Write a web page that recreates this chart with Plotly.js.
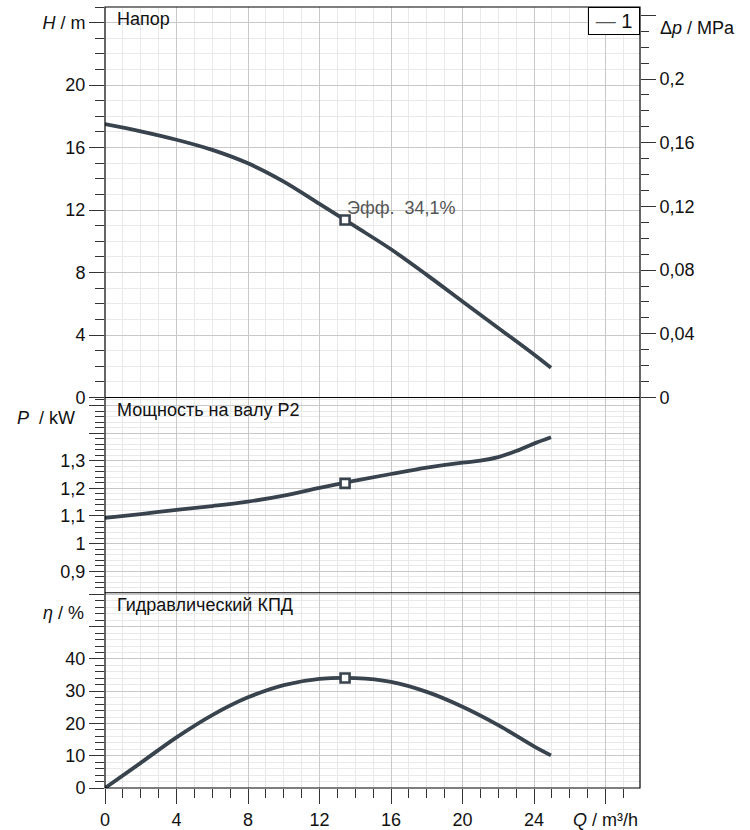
<!DOCTYPE html>
<html>
<head>
<meta charset="utf-8">
<script src="https://cdn.plot.ly/plotly-3.0.1.min.js"></script>
<style>html,body{margin:0;padding:0;background:#fff;}#chart{width:750px;height:830px;}</style>
</head>
<body>
<div id="chart"></div>
<script>
// ---- data ----
const flowQ   = [0, 2, 4, 6, 8, 10, 12, 14, 16, 18, 20, 22, 24, 24.95];
const headH   = [17.5, 17.04, 16.5, 15.85, 14.99, 13.82, 12.39, 10.95, 9.49, 7.85, 6.15, 4.45, 2.75, 1.9];
const powerQ  = [0, 2, 4, 6, 8, 10, 12, 14, 16, 18, 20, 21, 22, 23, 24, 24.95];
const powerP  = [1.093, 1.107, 1.122, 1.136, 1.152, 1.174, 1.202, 1.228, 1.252, 1.275, 1.293, 1.300, 1.313, 1.335, 1.362, 1.385];
const effQ    = [0, 2, 4, 6, 8, 10, 12, 14, 16, 18, 20, 22, 24, 24.95];
const effEta  = [0, 7.8, 15.7, 22.6, 28.1, 31.9, 33.8, 34.05, 32.9, 29.8, 25.2, 19.5, 12.9, 10.1];
const dutyQ   = [13.43];
const dutyH   = [11.36];
const dutyP   = [1.218];
const dutyEta = [34.1];
const xTickVals = [0, 4, 8, 12, 16, 20, 24, 28];
const xTickText = ['0', '4', '8', '12', '16', '20', '24', '<i>Q</i> / m³/h'];
const hTickVals = [0, 4, 8, 12, 16, 20, 24];
const hTickText = ['0', '4', '8', '12', '16', '20', '<i>H</i> / m'];
const pTickVals = [0.9, 1.0, 1.1, 1.2, 1.3, 1.4, 1.5];
const pTickText = ['0,9', '1', '1,1', '1,2', '1,3', '', ''];
const eTickVals = [0, 10, 20, 30, 40, 50, 60];
const eTickText = ['0', '10', '20', '30', '40', '', ''];
const dpTickVals = [0, 0.04, 0.08, 0.12, 0.16, 0.2, 0.24];
const dpTickText = ['0', '0,04', '0,08', '0,12', '0,16', '0,2', ''];
const MPA_PER_M = 0.00981;
const H_MAX = 25;
const legendLabel = '1';

// ---- styling ----
const CURVE = '#38434d';
const FONT = 'Liberation Sans, Arial, sans-serif';
const GRID = '#c8c8c8';
const MINOR = '#e9e9e9';
const TICKC = '#333';
const FS = 18;

function curve(x, y, ya) {
  return {x: x, y: y, xaxis: 'x', yaxis: ya, type: 'scatter', mode: 'lines',
    line: {color: CURVE, width: 3.8, shape: 'spline', smoothing: 1}, hoverinfo: 'skip', showlegend: false};
}
function duty(x, y, ya) {
  return {x: x, y: y, xaxis: 'x', yaxis: ya, type: 'scatter', mode: 'markers',
    marker: {symbol: 'square', size: 9, color: '#ffffff', line: {color: CURVE, width: 2.6}},
    hoverinfo: 'skip', showlegend: false};
}

const traces = [
  curve(flowQ, headH, 'y'), duty(dutyQ, dutyH, 'y'),
  curve(powerQ, powerP, 'y2'), duty(dutyQ, dutyP, 'y2'),
  curve(effQ, effEta, 'y3'), duty(dutyQ, dutyEta, 'y3'),
  // invisible trace to activate the Δp axis
  {x: [0], y: [0], xaxis: 'x', yaxis: 'y4', type: 'scatter', mode: 'markers',
   marker: {opacity: 0}, hoverinfo: 'skip', showlegend: false}
];

function yax(domain, range, tv, tt, minorD) {
  return {
    domain: domain, range: range, anchor: 'x', tickmode: 'array', tickvals: tv, ticktext: tt,
    ticks: 'outside', ticklen: 15, tickcolor: TICKC, tickwidth: 1,
    showgrid: true, gridcolor: GRID, gridwidth: 1, zeroline: false, showline: false,
    tickfont: {family: FONT, size: FS, color: '#111'},
    minor: {tickmode: 'linear', tick0: 0, dtick: minorD, ticks: 'outside', ticklen: 9,
            tickcolor: TICKC, showgrid: true, gridcolor: MINOR, gridwidth: 1},
    fixedrange: true
  };
}

const effLabel = 'Эфф.&nbsp; ' + dutyEta[0].toFixed(1).replace('.', ',') + '%';

const layout = {
  width: 750, height: 830,
  margin: {l: 105, r: 110, t: 7, b: 42, pad: 0},
  paper_bgcolor: '#fff', plot_bgcolor: '#fff',
  separators: ', ',
  showlegend: false,
  font: {family: FONT, size: FS, color: '#111'},
  xaxis: {
    domain: [0, 1], anchor: 'y3', range: [0, 29.93],
    tickmode: 'array', tickvals: xTickVals, ticktext: xTickText,
    ticks: 'outside', ticklen: 15, tickcolor: TICKC, tickwidth: 1,
    showgrid: true, gridcolor: GRID, zeroline: false, showline: false,
    tickfont: {family: FONT, size: FS, color: '#111'},
    minor: {tickmode: 'linear', tick0: 0, dtick: 1, ticks: 'outside', ticklen: 9,
            tickcolor: TICKC, showgrid: true, gridcolor: MINOR},
    fixedrange: true
  },
  yaxis: yax([0.5, 1], [0, H_MAX], hTickVals, hTickText, 1),
  yaxis2: yax([0.25, 0.5], [0.822, 1.529], pTickVals, pTickText, 0.02),
  yaxis3: yax([0, 0.25], [0, 60.5], eTickVals, eTickText, 2),
  yaxis4: {
    overlaying: 'y', side: 'right', anchor: 'x', range: [0, H_MAX * MPA_PER_M],
    tickmode: 'array', tickvals: dpTickVals, ticktext: dpTickText,
    ticks: 'outside', ticklen: 15, tickcolor: TICKC, tickwidth: 1,
    showgrid: false, zeroline: false, showline: false,
    tickfont: {family: FONT, size: FS, color: '#111'},
    minor: {tickmode: 'linear', tick0: 0, dtick: 0.01, ticks: 'outside', ticklen: 8,
            tickcolor: TICKC, showgrid: false},
    fixedrange: true
  },
  shapes: [
    {type: 'rect', xref: 'paper', yref: 'paper', x0: 0, x1: 1, y0: 0, y1: 1,
     line: {color: '#000', width: 1.2}, layer: 'above'},
    {type: 'line', xref: 'paper', yref: 'paper', x0: 0, x1: 1, y0: 0.5, y1: 0.5,
     line: {color: '#000', width: 1.2}, layer: 'above'},
    {type: 'line', xref: 'paper', yref: 'paper', x0: 0, x1: 1, y0: 0.25, y1: 0.25,
     line: {color: '#000', width: 1.2}, layer: 'above'}
  ],
  annotations: [
    {text: 'Напор', xref: 'paper', yref: 'paper', x: 0, y: 1, xanchor: 'left', yanchor: 'middle',
     xshift: 10, yshift: -12, showarrow: false, font: {family: FONT, size: FS, color: '#111'}},
    {text: 'Мощность на валу P2', xref: 'paper', yref: 'paper', x: 0, y: 0.5, xanchor: 'left', yanchor: 'middle',
     xshift: 10, yshift: -12, showarrow: false, font: {family: FONT, size: FS, color: '#111'}},
    {text: 'Гидравлический КПД', xref: 'paper', yref: 'paper', x: 0, y: 0.25, xanchor: 'left', yanchor: 'middle',
     xshift: 10, yshift: -12, showarrow: false, font: {family: FONT, size: FS, color: '#111'}},
    {text: '<i>P</i>&nbsp; / kW', xref: 'paper', yref: 'paper', x: 0, y: 0.5, xanchor: 'right', yanchor: 'middle',
     xshift: -28, yshift: -20, showarrow: false, font: {family: FONT, size: FS, color: '#111'}},
    {text: '<i>η</i> / %', xref: 'paper', yref: 'paper', x: 0, y: 0.25, xanchor: 'right', yanchor: 'middle',
     xshift: -19, yshift: -20, showarrow: false, font: {family: FONT, size: FS, color: '#111'}},
    {text: 'Δ<i>p</i> / MPa', xref: 'paper', yref: 'paper', x: 1, y: 1, xanchor: 'left', yanchor: 'middle',
     xshift: 18, yshift: -21, showarrow: false, font: {family: FONT, size: FS, color: '#111'}},
    {text: effLabel, xref: 'x', yref: 'y', x: dutyQ[0], y: dutyH[0], xanchor: 'left', yanchor: 'middle',
     xshift: 0, yshift: 12, showarrow: false, font: {family: FONT, size: FS, color: '#555'}},
    {text: '<span style="color:#555">—</span> ' + legendLabel, xref: 'paper', yref: 'paper', x: 1, y: 1,
     xanchor: 'right', yanchor: 'top', showarrow: false, bgcolor: '#fff', bordercolor: '#000',
     borderwidth: 1, borderpad: 2, width: 46, height: 22, align: 'center',
     font: {family: FONT, size: 20, color: '#111'}}
  ]
};

Plotly.newPlot('chart', traces, layout, {displayModeBar: false, staticPlot: true});
</script>
</body>
</html>
